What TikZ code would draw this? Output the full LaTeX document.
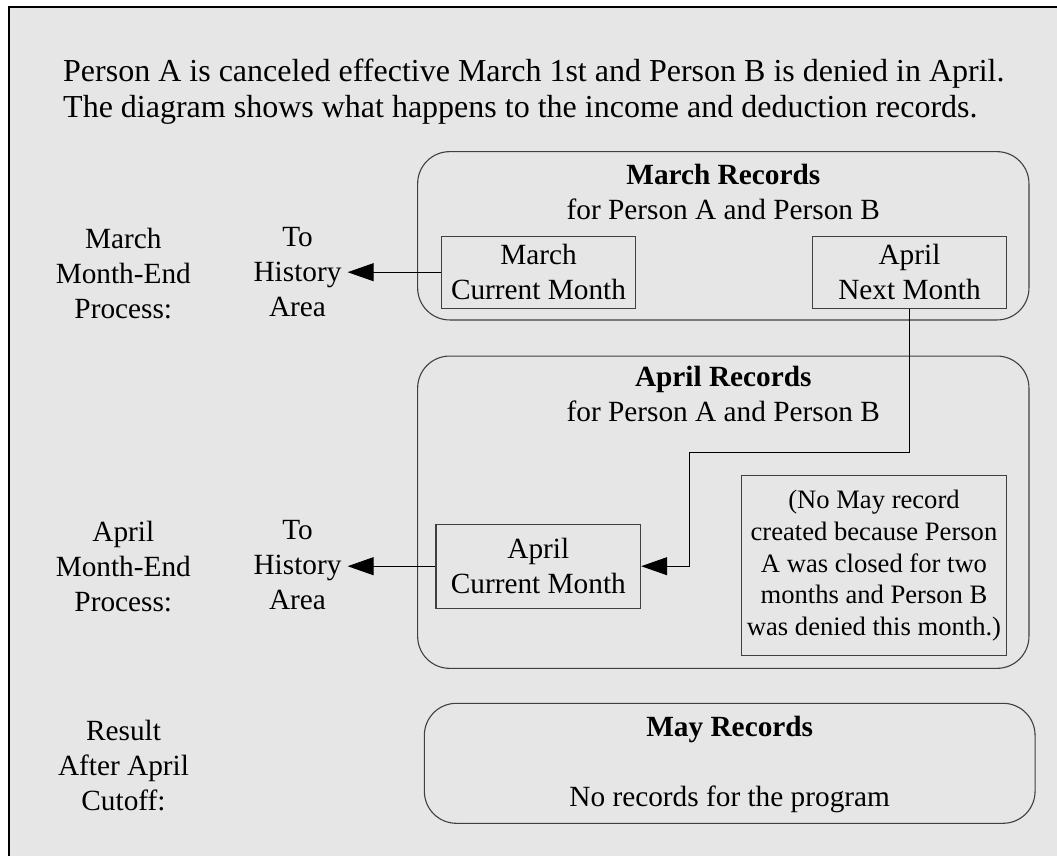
\documentclass[tikz,border=0pt]{standalone}
\usepackage{fontspec}
\setmainfont{Liberation Serif}
\usetikzlibrary{arrows.meta}
\definecolor{panelgray}{HTML}{E6E6E6}
\definecolor{edgegray}{HTML}{404040}

\begin{document}
\begin{tikzpicture}[x=1pt, y=-1pt,
  every node/.style={font=\fontsize{29.3}{35}\selectfont},
  recgroup/.style={draw=edgegray, line width=1.1pt, rounded corners=32pt, inner sep=0pt},
  record/.style={draw=edgegray, line width=1.1pt, align=center, inner sep=0pt},
  sidetext/.style={align=center, anchor=base, inner sep=0pt},
  flow/.style={line width=0.9pt, -{Triangle[length=26pt, width=18pt]}}]
  \useasboundingbox (0, 0) rectangle (1057, 856);
  \clip (0, 0) rectangle (1057, 856);
  \fill [white] (0, 0) rectangle (1057, 856);
  \draw [line width=2pt, fill=panelgray] (9.3, 7.3) rectangle (1080, 880);

  \node [anchor=base west, align=left, inner sep=0pt, font=\fontsize{32}{36}\selectfont] (Intro_text) at (63, 118) {Person A is canceled effective March 1st and Person B is denied in April.\\The diagram shows what happens to the income and deduction records.};

  \node [sidetext] (March_process) at (123.3, 318.3) {March\\Month-End\\Process:};
  \node [sidetext, inner xsep=6pt] (March_history) at (297.5, 316.5) {To\\History\\Area};
  \node [sidetext] (April_process) at (123.3, 611.7) {April\\Month-End\\Process:};
  \node [sidetext, inner xsep=6pt] (April_history) at (297.5, 609.5) {To\\History\\Area};
  \node [sidetext] (Result_label) at (123.5, 810) {Result\\After April\\Cutoff:};

  \node [recgroup, minimum width=611.3pt, minimum height=168.3pt] (March_box) at (723.3, 235.8) {};
  \node [sidetext] (March_title) at (723.3, 219) {\textbf{March Records}\\for Person A and Person B};
  \node [record, minimum width=193.6pt, minimum height=72.3pt] (March_current) at (538.5, 272.2) {March\\Current Month};
  \node [record, minimum width=193.6pt, minimum height=72.3pt] (April_next) at (909.5, 272.2) {April\\Next Month};

  \node [recgroup, minimum width=611.3pt, minimum height=312.3pt] (April_box) at (723.3, 512.2) {};
  \node [sidetext] (April_title) at (723.3, 421.7) {\textbf{April Records}\\for Person A and Person B};
  \node [record, minimum width=204.7pt, minimum height=84.3pt] (April_current) at (538.3, 566.2) {April\\Current Month};
  \node [record, minimum width=264.6pt, minimum height=180pt, font=\fontsize{26.6}{31.7}\selectfont] (No_May_note) at (874, 565.7) {(No May record\\created because Person\\A was closed for two\\months and Person B\\was denied this month.)};

  \node [recgroup, minimum width=610.7pt, minimum height=120pt] (May_box) at (729.7, 763.3) {};
  \node [sidetext] (May_title) at (729.7, 736) {\textbf{May Records}};
  \node [sidetext] (May_text) at (729.7, 806) {No records for the program};

  \coordinate (Hop) at (689.3, 452.3);
  \draw [flow] (March_current.west) -- (March_current.west -| March_history.east);
  \draw [flow] (April_current.west) -- (April_current.west -| April_history.east);
  \draw [flow] (April_next.south) |- (Hop) |- (April_current.east);
\end{tikzpicture}
\end{document}
